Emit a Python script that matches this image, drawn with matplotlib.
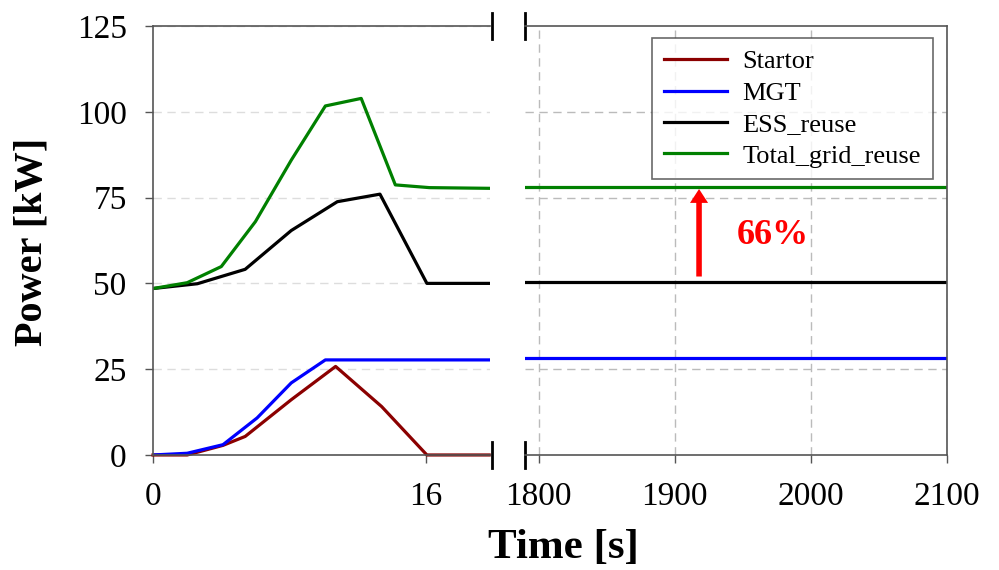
import matplotlib
matplotlib.use("Agg")
import matplotlib.pyplot as plt

# Start-up transient (left panel)
t_startor = [0, 2, 4.1, 5.4, 8.1, 10.7, 13.4, 16.05, 19.7]
p_startor = [0, 0, 2.8, 5.4, 16.1, 25.8, 14.1, 0, 0]

t_mgt = [0, 2, 4.1, 6.1, 8.1, 10.1, 19.7]
p_mgt = [0, 0.5, 3.0, 10.8, 21.0, 27.7, 27.7]

t_ess = [0, 2.6, 5.4, 8.1, 10.8, 13.3, 16.05, 19.7]
p_ess = [48.5, 49.9, 54.1, 65.4, 73.8, 76.0, 50.0, 50.0]

t_grid = [0, 2, 4, 6, 8.1, 10.1, 12.2, 14.2, 16.2, 19.7]
p_grid = [48.5, 50.2, 54.9, 68.0, 85.9, 101.7, 103.9, 78.7, 77.9, 77.7]

# Steady state (right panel)
t_steady = [1790, 2100]
mgt_steady = [28.2, 28.2]
ess_steady = [50.3, 50.3]
grid_steady = [78.2, 78.2]

labels = ["Startor", "MGT", "ESS_reuse", "Total_grid_reuse"]
colors = ["#8b0000", "#0000ff", "#000000", "#008000"]

plt.rcParams["font.family"] = ["Liberation Serif", "DejaVu Serif"]
plt.rcParams["axes.edgecolor"] = "#555555"
plt.rcParams["xtick.color"] = "#555555"
plt.rcParams["ytick.color"] = "#555555"
plt.rcParams["xtick.labelcolor"] = "black"
plt.rcParams["ytick.labelcolor"] = "black"

fig = plt.figure(figsize=(9.99, 5.7), dpi=100)
ax1 = fig.add_axes([0.1532, 0.2018, 0.3373, 0.7526])
ax2 = fig.add_axes([0.5255, 0.2018, 0.4220, 0.7526])

lw = 2.3
ax1.plot(t_startor, p_startor, color=colors[0], lw=lw, clip_on=False)
ax1.plot(t_mgt, p_mgt, color=colors[1], lw=lw)
ax1.plot(t_ess, p_ess, color=colors[2], lw=lw)
ax1.plot(t_grid, p_grid, color=colors[3], lw=lw)

ax2.plot([], [], color=colors[0], lw=lw, label=labels[0])
ax2.plot(t_steady, mgt_steady, color=colors[1], lw=lw, label=labels[1])
ax2.plot(t_steady, ess_steady, color=colors[2], lw=lw, label=labels[2])
ax2.plot(t_steady, grid_steady, color=colors[3], lw=lw, label=labels[3])

for ax in (ax1, ax2):
    ax.set_ylim(0, 125)
    ax.tick_params(direction="out", length=6, width=1, labelsize=24, pad=13)
    for s in ax.spines.values():
        s.set_linewidth(1.2)

ax1.set_xlim(0, 19.75)
ax1.set_xticks([0, 16])
ax1.set_yticks([0, 25, 50, 75, 100, 125])
ax1.spines["right"].set_visible(False)
ax1.yaxis.grid(True, ls=(0, (6, 4)), color="#dddddd", lw=1)
ax1.set_axisbelow(True)

ax2.set_xlim(1790, 2100)
ax2.set_xticks([1800, 1900, 2000, 2100])
ax2.set_yticks([25, 75, 100])
ax2.tick_params(axis="y", left=False, labelleft=False)
ax2.spines["left"].set_visible(False)
ax2.grid(True, ls=(0, (6, 4)), color="#bbbbbb", lw=1)
ax2.set_axisbelow(True)

# break marks
for ax, xb in ((ax1, 1.006), (ax2, 0.0)):
    ax.plot([xb, xb], [0.97, 1.03], transform=ax.transAxes, color="black", lw=2, clip_on=False)
    ax.plot([xb, xb], [-0.03, 0.03], transform=ax.transAxes, color="black", lw=2, clip_on=False)

leg = ax2.legend(loc="upper right", bbox_to_anchor=(0.968, 0.972), borderaxespad=0,
                 fontsize=19, frameon=True, fancybox=False, handlelength=2.4,
                 labelspacing=0.3, borderpad=0.45, handletextpad=0.6)
leg.get_frame().set_edgecolor("#444444")
leg.get_frame().set_linewidth(1.2)

ax2.annotate("", xy=(1918, 77.5), xytext=(1918, 52),
             arrowprops=dict(width=4, headwidth=13, headlength=10,
                             facecolor="red", edgecolor="none", shrink=0))
ax2.text(1946, 64, "66%", color="red", fontsize=26, fontweight="bold", va="center", ha="left")

fig.text(0.5636, 0.038, "Time [s]", fontsize=31, fontweight="bold", ha="center", va="center")
fig.text(0.032, 0.575, "Power [kW]", fontsize=29, fontweight="bold", ha="center", va="center",
         rotation=90)

fig.savefig("out.png", dpi=100)
